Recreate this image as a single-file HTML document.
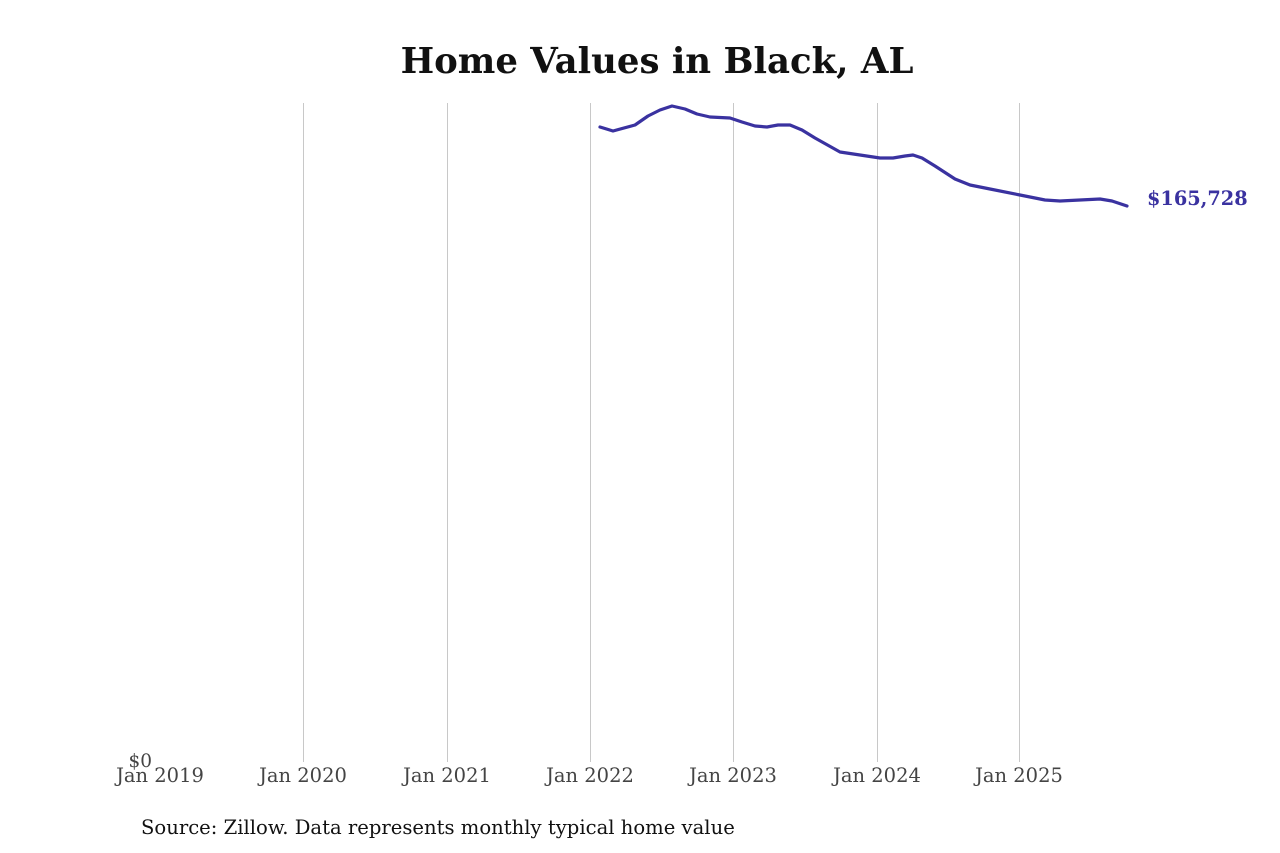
<!DOCTYPE html>
<html><head><meta charset="utf-8"><style>
body{margin:0;background:#fff;}
svg{display:block;}
</style></head><body>
<svg width="1280" height="853" xmlns="http://www.w3.org/2000/svg" font-family="DejaVu Serif, Liberation Serif, serif">
<rect width="1280" height="853" fill="#fff"/>
<text x="657" y="73" text-anchor="middle" font-size="35.5" font-weight="bold" fill="#111">Home Values in Black, AL</text>
<g stroke="#c8c8c8" stroke-width="1">
<line x1="303.5" y1="103" x2="303.5" y2="762"/>
<line x1="447.5" y1="103" x2="447.5" y2="762"/>
<line x1="590.5" y1="103" x2="590.5" y2="762"/>
<line x1="733.5" y1="103" x2="733.5" y2="762"/>
<line x1="877.5" y1="103" x2="877.5" y2="762"/>
<line x1="1019.5" y1="103" x2="1019.5" y2="762"/>
</g>
<g font-size="19.5" fill="#444" text-anchor="middle">
<text x="160" y="782">Jan 2019</text>
<text x="303" y="782">Jan 2020</text>
<text x="447" y="782">Jan 2021</text>
<text x="590" y="782">Jan 2022</text>
<text x="733" y="782">Jan 2023</text>
<text x="877" y="782">Jan 2024</text>
<text x="1019" y="782">Jan 2025</text>
</g>
<text x="152" y="767" font-size="18.5" fill="#444" text-anchor="end">$0</text>
<polyline fill="none" stroke="#3a32a0" stroke-width="3.2" stroke-linejoin="round" stroke-linecap="round"
points="600,127 613,131 635,125 648,116 660,110 672,106 685,109 697,114 710,117 730,118 742,122 755,126 767,127 778,125 790,125 802,130 815,138 840,152 860,155 880,158 893,158 905,156 913,155 922,158 935,166 955,179 970,185 990,189 1020,195 1045,200 1060,201 1080,200 1100,199 1112,201 1127,206"/>
<text x="1147" y="205" font-size="19.3" font-weight="bold" fill="#3a32a0">$165,728</text>
<text x="141" y="834" font-size="19.6" fill="#111">Source: Zillow. Data represents monthly typical home value</text>
</svg>
</body></html>
